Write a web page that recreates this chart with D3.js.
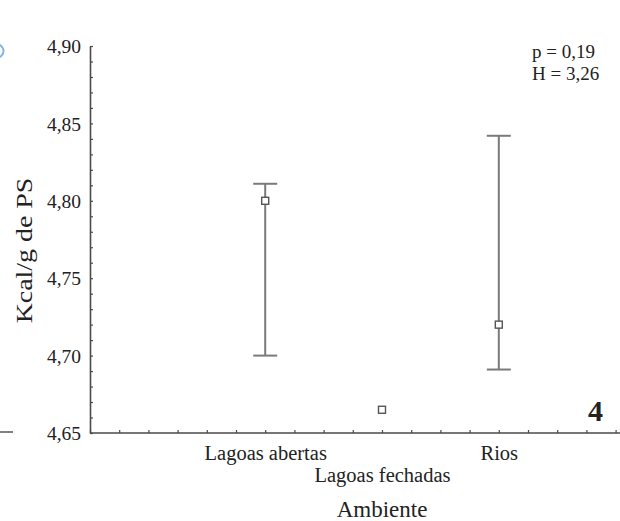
<!DOCTYPE html>
<html>
<head>
<meta charset="utf-8">
<script src="https://cdn.jsdelivr.net/npm/d3@7"></script>
<style>
  html, body { margin: 0; padding: 0; background: #fff; }
  svg { display: block; }
  text { font-family: "Liberation Serif", "Times New Roman", serif; fill: #222; }
</style>
</head>
<body>
<svg id="chart" width="620" height="521"></svg>
<script>
// Caloric content (Kcal/g dry weight) by environment
const categories = ["Lagoas abertas", "Lagoas fechadas", "Rios"];
const means      = [4.800, 4.665, 4.720];
const upper      = [4.811, null, 4.842];
const lower      = [4.700, null, 4.691];
const yTicks     = [4.65, 4.70, 4.75, 4.80, 4.85, 4.90];
const stats      = ["p = 0,19", "H = 3,26"];
const panelLabel = "4";

const svg = d3.select("#chart");
const fmt = v => d3.format(".2f")(v).replace(".", ",");

const x = d3.scaleLinear().domain([-0.5, 4]).range([90, 615.6]);
const y = d3.scaleLinear().domain([4.65, 4.90]).range([433, 46]);
const catX = i => x(i + 1);

const axisColor = "#4a4a4a";

// y axis: minor ticks every 0.01, labels every 0.05
const yMinor = d3.range(0, 26).map(i => 4.65 + i * 0.01);
const gy = svg.append("g").attr("transform", `translate(${x.range()[0]},0)`);
gy.call(d3.axisRight(y).tickValues(yMinor).tickSize(3).tickFormat("").tickSizeOuter(0));
gy.select(".domain").attr("stroke", axisColor).attr("stroke-width", 1.6);
gy.selectAll(".tick line").attr("stroke", axisColor).attr("stroke-width", 1.2);

const gyl = svg.append("g").attr("transform", `translate(${x.range()[0]},0)`);
gyl.call(d3.axisLeft(y).tickValues(yTicks).tickSize(0).tickPadding(9).tickFormat(fmt));
gyl.select(".domain").remove();
gyl.selectAll(".tick text")
  .attr("font-size", 19.5)
  .attr("fill", "#222")
  .attr("dy", "0.34em");

// x axis: ticks every quarter unit
const xMinor = d3.range(0, 19).map(i => -0.5 + i * 0.25);
const gx = svg.append("g").attr("transform", `translate(0,${y.range()[0]})`);
gx.call(d3.axisTop(x).tickValues(xMinor).tickSize(3).tickFormat("").tickSizeOuter(0));
gx.select(".domain").attr("stroke", axisColor).attr("stroke-width", 1.6)
  .attr("d", `M${x.range()[0]},0H620`);
gx.selectAll(".tick line").attr("stroke", axisColor).attr("stroke-width", 1.2);

// category labels, staggered on two rows
const gxl = svg.append("g").attr("transform", `translate(0,${y.range()[0]})`);
gxl.call(d3.axisBottom(x).tickValues([1, 2, 3]).tickSize(0)
  .tickFormat((d, i) => categories[i]));
gxl.select(".domain").remove();
gxl.selectAll(".tick text")
  .attr("font-size", 20.5)
  .attr("fill", "#222")
  .attr("y", (d, i) => i === 1 ? 48.5 : 27)
  .attr("dy", 0);

// axis titles
svg.append("text")
  .attr("x", catX(1)).attr("y", 517)
  .attr("text-anchor", "middle")
  .attr("font-size", 23)
  .text("Ambiente");

svg.append("text")
  .attr("transform", `translate(32,250.5) rotate(-90) scale(1.24,1)`)
  .attr("text-anchor", "middle")
  .attr("font-size", 22.5)
  .text("Kcal/g de PS");

// error bars
const barColor = "#7a7a7a";
const capHalf = 12;
const bars = categories.map((c, i) => ({ i, lo: lower[i], hi: upper[i] }))
  .filter(d => d.lo != null && d.hi != null);

svg.append("g").selectAll("line.stem").data(bars).join("line")
  .attr("x1", d => catX(d.i)).attr("x2", d => catX(d.i))
  .attr("y1", d => y(d.hi)).attr("y2", d => y(d.lo))
  .attr("stroke", barColor).attr("stroke-width", 2);

svg.append("g").selectAll("line.cap").data(bars.flatMap(d => [
    { i: d.i, v: d.hi }, { i: d.i, v: d.lo }
  ])).join("line")
  .attr("x1", d => catX(d.i) - capHalf).attr("x2", d => catX(d.i) + capHalf)
  .attr("y1", d => y(d.v)).attr("y2", d => y(d.v))
  .attr("stroke", barColor).attr("stroke-width", 2);

// mean markers
const sq = 7;
svg.append("g").selectAll("rect").data(means).join("rect")
  .attr("x", (d, i) => catX(i) - sq / 2)
  .attr("y", d => y(d) - sq / 2)
  .attr("width", sq).attr("height", sq)
  .attr("fill", "#fff")
  .attr("stroke", "#555").attr("stroke-width", 1.4);

// test statistics
svg.append("g").selectAll("text").data(stats).join("text")
  .attr("x", 532).attr("y", (d, i) => 58 + i * 22)
  .attr("font-size", 19)
  .text(d => d);

// panel number
svg.append("text")
  .attr("x", 603).attr("y", 421)
  .attr("text-anchor", "end")
  .attr("font-size", 30)
  .attr("font-weight", "bold")
  .attr("fill", "#000")
  .text(panelLabel);

// edge of the neighbouring panel
svg.append("line").attr("x1", 0).attr("x2", 13).attr("y1", 432).attr("y2", 432)
  .attr("stroke", axisColor).attr("stroke-width", 1.4);
svg.append("circle").attr("cx", -3).attr("cy", 51).attr("r", 6.5)
  .attr("fill", "none").attr("stroke", "#7fb4e0").attr("stroke-width", 2);
</script>
</body>
</html>
